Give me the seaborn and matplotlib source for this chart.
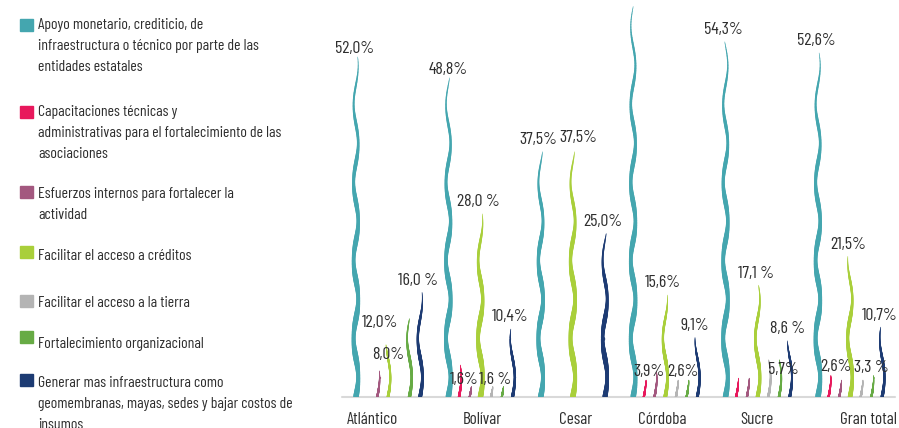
import numpy as np
import matplotlib
matplotlib.use("Agg")
import matplotlib.pyplot as plt
from matplotlib.collections import LineCollection
from matplotlib.patches import Rectangle
from matplotlib.transforms import ScaledTranslation
from matplotlib import font_manager
import seaborn as sns

# Departamentos (eje x)
departamentos = ["Atlántico", "Bolívar", "Cesar", "Córdoba", "Sucre", "Gran total"]

# Categorías de la leyenda
categorias = [
    "Apoyo monetario, crediticio, de\ninfraestructura o técnico por parte de las\nentidades estatales",
    "Capacitaciones técnicas y\nadministrativas para el fortalecimiento de las\nasociaciones",
    "Esfuerzos internos para fortalecer la\nactividad",
    "Facilitar el acceso a créditos",
    "Facilitar el acceso a la tierra",
    "Fortalecimiento organizacional",
    "Generar mas infraestructura como\ngeomembranas, mayas, sedes y bajar costos de\ninsumos",
]

# Porcentajes por categoría (mismo orden que departamentos)
apoyo_estatal = [52.0, 48.8, 37.5, 59.7, 54.3, 52.6]
capacitaciones = [0.0, 4.9, 0.0, 2.6, 2.9, 3.3]
esfuerzos_internos = [4.0, 1.6, 0.0, 3.9, 2.9, 2.6]
acceso_creditos = [8.0, 28.0, 37.5, 15.6, 17.1, 21.5]
acceso_tierra = [0.0, 1.6, 0.0, 2.6, 5.7, 2.6]
fortalecimiento_org = [12.0, 1.6, 0.0, 2.6, 5.7, 3.3]
infraestructura = [16.0, 10.4, 25.0, 9.1, 8.6, 10.7]

# Etiquetas como aparecen en el gráfico ("" = sin etiqueta)
etq_estatal = ["52,0%", "48,8%", "37,5%", "", "54,3%", "52,6%"]
etq_capacitaciones = ["", "", "", "", "", ""]
etq_esfuerzos = ["", "1,6%", "", "3,9%", "", "2,6%"]
etq_creditos = ["8,0%", "28,0 %", "37,5%", "15,6%", "17,1 %", "21,5%"]
etq_tierra = ["", "1,6 %", "", "2,6%", "", ""]
etq_fortalecimiento = ["12,0%", "", "", "", "5,7%", "3,3 %"]
etq_infraestructura = ["16,0 %", "10,4%", "25,0%", "9,1%", "8,6 %", "10,7%"]

colores = ["#44a6af", "#e8185c", "#a3587f", "#a9cf3a", "#b4b4b4", "#67ab45", "#1d3b73"]

series = [apoyo_estatal, capacitaciones, esfuerzos_internos, acceso_creditos,
          acceso_tierra, fortalecimiento_org, infraestructura]
etiquetas = [etq_estatal, etq_capacitaciones, etq_esfuerzos, etq_creditos,
             etq_tierra, etq_fortalecimiento, etq_infraestructura]

sns.set_theme(style="white")
paleta = sns.color_palette(colores)

# fuente condensada parecida a la original
nombres = {f.name for f in font_manager.fontManager.ttflist}
fuente = next((f for f in ["Barlow Condensed", "Saira Condensed", "Roboto Condensed"]
               if f in nombres), "DejaVu Sans")
plt.rcParams["font.family"] = [fuente, "DejaVu Sans"]
plt.rcParams["font.weight"] = "normal"
gris_texto = "#2e2e2e"

W, H = 899, 428
fig = plt.figure(figsize=(W / 100, H / 100), dpi=100)
ax = fig.add_axes([342 / W, 31 / H, 553 / W, 397 / H])
ax.set_xlim(-0.498, 5.487)
ax.set_ylim(0, 60.7)

px_x = 92.4   # pixeles por departamento
px_y = 397 / 60.7  # pixeles por punto porcentual
paso = 10.7 / px_x

# ajustes manuales de algunas etiquetas (pixeles)
ajustes = {(0, 3): (0, -10), (0, 5): (-29, -4), (1, 2): (-6, 7), (1, 4): (4, 7),
           (3, 2): (-6, 0), (3, 4): (7, 8), (4, 5): (4, -10), (5, 5): (0, 8),
           (5, 2): (-3, 13), (2, 3): (6, 14), (0, 0): (-1, 8), (1, 0): (0, 8)}


def linea_ondulada(x0, valor, color):
    """Dibuja una linea ondulada que se adelgaza en la punta."""
    if valor <= 0:
        return
    n = 240
    y = np.linspace(0, valor, n)
    fase = 2 * np.pi * y * px_y / 78
    x = x0 + 2.3 * np.sin(fase) / px_x
    t = y / valor
    grosor = min(5.2, 1.4 + valor * 0.13)
    lw = grosor * (0.85 + 0.15 * np.cos(2 * fase)) * (1 - t ** 2.2) ** 0.7 + 0.35
    pts = np.column_stack([x, y]).reshape(-1, 1, 2)
    segs = np.concatenate([pts[:-1], pts[1:]], axis=1)
    lc = LineCollection(segs, colors=[color], linewidths=lw[:-1] * 0.72,
                        capstyle="round", zorder=2)
    ax.add_collection(lc)


for j, (vals, etqs) in enumerate(zip(series, etiquetas)):
    for i, (v, e) in enumerate(zip(vals, etqs)):
        x0 = i + (j - 3) * paso
        linea_ondulada(x0, v, paleta[j])
        if e:
            dx, dy = ajustes.get((i, j), (-2, 12))
            ax.annotate(e, (x0, v), xytext=(dx, dy), textcoords="offset pixels",
                        ha="center", va="center", fontsize=12.8, color=gris_texto,
                        zorder=5)

ax.axhline(0, color="#d9d9d9", lw=1.5, clip_on=False, zorder=1)
ax.set_xticks(range(len(departamentos)), departamentos)
ax.tick_params(axis="x", length=0, pad=11, labelsize=12.3, labelcolor=gris_texto)
ax.set_yticks([])
sns.despine(ax=ax, left=True, bottom=True)

# corrimiento de las etiquetas extremas como en el original
for lab, d in zip(ax.get_xticklabels(), [-16, 2, 3, -3, -1, 18]):
    lab.set_transform(lab.get_transform() + ScaledTranslation(d / 100, 0, fig.dpi_scale_trans))

# leyenda manual a la izquierda
filas_y = [23, 110, 192, 254, 301, 342, 381]
cuadros_y = [25, 112, 192, 252, 301, 337, 380]
for k, (txt, yl, yc) in enumerate(zip(categorias, filas_y, cuadros_y)):
    fig.add_artist(Rectangle((20 / W, 1 - (yc + 6) / H), 13 / W, 12 / H,
                             transform=fig.transFigure, color=paleta[k]))
    fig.text(38 / W, 1 - (yl - 5) / H, txt, ha="left", va="top", fontsize=11.3,
             color=gris_texto, linespacing=1.65)

fig.savefig("out.png", dpi=100)
